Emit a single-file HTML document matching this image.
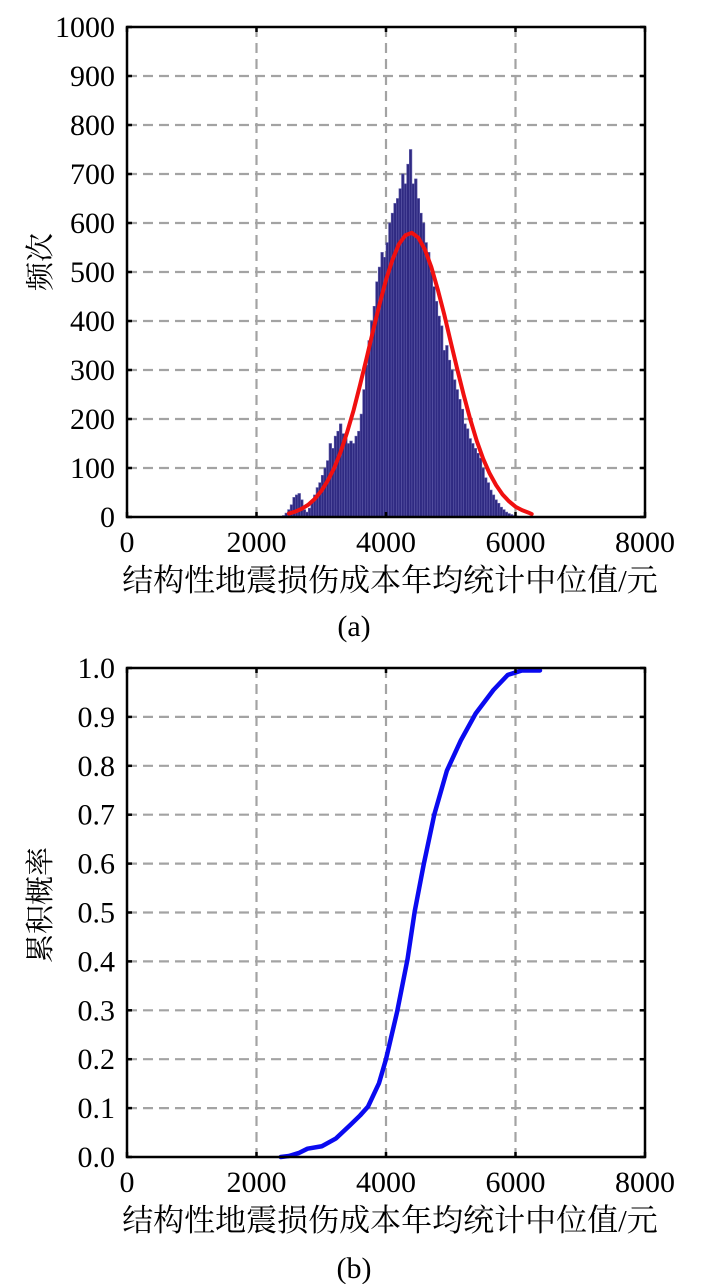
<!DOCTYPE html>
<html><head><meta charset="utf-8"><style>
html,body{margin:0;padding:0;background:#fff;}
svg{display:block;}
text{font-family:"Liberation Serif","Noto Serif CJK SC","Noto Sans CJK SC",serif;fill:#000;}
</style></head><body>
<svg id="fig" width="708" height="1284" viewBox="0 0 708 1284" xmlns="http://www.w3.org/2000/svg"></svg>
<script>
const xTicks=[0,2000,4000,6000,8000];
const yTicksA=[0,100,200,300,400,500,600,700,800,900,1000];
const yTicksB=[0,0.1,0.2,0.3,0.4,0.5,0.6,0.7,0.8,0.9,1.0];
const yTickLabelsB=["0.0","0.1","0.2","0.3","0.4","0.5","0.6","0.7","0.8","0.9","1.0"];
const binStart=2400;
const binWidth=40;
const histCounts=[3,8,15,25,40,45,48,35,15,10,18,30,45,60,70,85,100,115,150,140,165,175,190,170,160,150,155,150,165,175,210,260,310,360,400,430,480,510,540,530,560,600,620,640,650,670,700,680,720,750,680,690,650,620,600,560,540,500,470,440,410,390,340,350,320,300,280,260,240,220,190,180,160,150,140,130,120,100,80,70,55,45,35,28,20,15,10,7,5,3,2,1];
const fitX=[2500,2600,2700,2800,2900,3000,3100,3200,3300,3400,3500,3600,3700,3800,3900,4000,4100,4200,4300,4400,4500,4600,4700,4800,4900,5000,5100,5200,5300,5400,5500,5600,5700,5800,5900,6000,6100,6200,6250];
const fitY=[7,11,17,25,37,53,74,100,133,173,218,270,324,380,434,484,525,557,575,580,570,546,510,464,413,357,302,249,200,156,119,89,65,46,32,21,14,9,6];
const cdfX=[2374,2500,2650,2788,3009,3228,3444,3600,3722,3892,4000,4170,4333,4443,4582,4747,4940,5156,5385,5659,5882,6100,6378];
const cdfY=[0,0.002,0.008,0.017,0.022,0.038,0.065,0.085,0.103,0.151,0.2,0.296,0.405,0.502,0.598,0.701,0.79,0.852,0.907,0.955,0.986,0.995,0.995];

const NS="http://www.w3.org/2000/svg";
const svg=document.getElementById('fig');
function mk(tag,attrs,parent){const e=document.createElementNS(NS,tag);for(const k in attrs)e.setAttribute(k,attrs[k]);(parent||svg).appendChild(e);return e;}
const L=127,R=645;
const sx=v=>L+(v-0)/8000*(R-L);

function axes(top,bot,ymax,name){
  const sy=v=>bot-(v/ymax)*(bot-top);
  const g=mk('g',{});
  
  
  return {sy,g};
}
function grid(top,bot,ymax,yTicks,g){
  const sy=v=>bot-(v/ymax)*(bot-top);
  yTicks.forEach(t=>{if(t>0&&t<ymax){mk('line',{x1:L,x2:R,y1:sy(t),y2:sy(t),stroke:'#a3a3a3','stroke-width':2.2,'stroke-dasharray':'10,6'},g);}});
  xTicks.forEach(t=>{if(t>0&&t<8000){mk('line',{x1:sx(t),x2:sx(t),y1:top,y2:bot,stroke:'#a3a3a3','stroke-width':2.2,'stroke-dasharray':'10,6'},g);}});
}
function frame(top,bot,ymax,yTicks,yLabels,name){
  const sy=v=>bot-(v/ymax)*(bot-top);
  const g=mk('g',{});
  
  
  yTicks.forEach((t,i)=>{
    mk('line',{x1:L,x2:L+5,y1:sy(t),y2:sy(t),stroke:'#000','stroke-width':2.5},g);
    mk('line',{x1:R-5,x2:R,y1:sy(t),y2:sy(t),stroke:'#000','stroke-width':2.5},g);
    const tx=mk('text',{x:L-12,y:sy(t)+10,'text-anchor':'end','font-size':30},g);
    tx.textContent=yLabels[i];
    
    
  });
  xTicks.forEach(t=>{
    mk('line',{x1:sx(t),x2:sx(t),y1:bot,y2:bot-5,stroke:'#000','stroke-width':2.5},g);
    mk('line',{x1:sx(t),x2:sx(t),y1:top,y2:top+5,stroke:'#000','stroke-width':2.5},g);
    const tx=mk('text',{x:sx(t),y:bot+35,'text-anchor':'middle','font-size':30},g);
    tx.textContent=String(t);
    
    
  });
  mk('rect',{x:L,y:top,width:R-L,height:bot-top,fill:'none',stroke:'#000','stroke-width':2.5},g);
}

// Chart A
const topA=27,botA=517;
const A=axes(topA,botA,1000,'chart-a');
grid(topA,botA,1000,yTicksA,A.g);
const syA=A.sy;
const bars=mk('g',{});


histCounts.forEach((c,i)=>{
  const x0=sx(binStart+i*binWidth),x1=sx(binStart+(i+1)*binWidth);
  const r=mk('rect',{x:x0,y:syA(c),width:x1-x0,height:botA-syA(c),fill:'#2f2a82',stroke:'#5e5aa8','stroke-width':0.6},bars);
  
  
});
const fit=mk('polyline',{points:fitX.map((x,i)=>sx(x)+','+syA(fitY[i])).join(' '),fill:'none',stroke:'#f01010','stroke-width':4,'stroke-linejoin':'round','stroke-linecap':'round'});


frame(topA,botA,1000,yTicksA,yTicksA.map(String),'chart-a');

// Chart B
const topB=668,botB=1157;
const B=axes(topB,botB,1,'chart-b');
grid(topB,botB,1,yTicksB,B.g);
const syB=B.sy;
const cdf=mk('polyline',{points:cdfX.map((x,i)=>sx(x)+','+syB(cdfY[i])).join(' '),fill:'none',stroke:'#0a0af0','stroke-width':4.5,'stroke-linejoin':'round','stroke-linecap':'round'});


frame(topB,botB,1,yTicksB,yTickLabelsB,'chart-b');

function label(txt,x,y,name,size,rot){
  const t=mk('text',{x:x,y:y,'text-anchor':'middle','font-size':size});
  if(rot)t.setAttribute('transform','rotate(-90 '+x+' '+y+')');
  t.textContent=txt;
  
  
}
label('结构性地震损伤成本年均统计中位值/元',390,591,'x-axis-title-a',31);
label('(a)',354,636,'caption-a',30);
label('频次',50,262,'y-axis-title-a',29,true);
label('结构性地震损伤成本年均统计中位值/元',390,1231,'x-axis-title-b',31);
label('(b)',354,1278,'caption-b',30);
label('累积概率',50,905,'y-axis-title-b',29,true);
</script>
</body></html>
